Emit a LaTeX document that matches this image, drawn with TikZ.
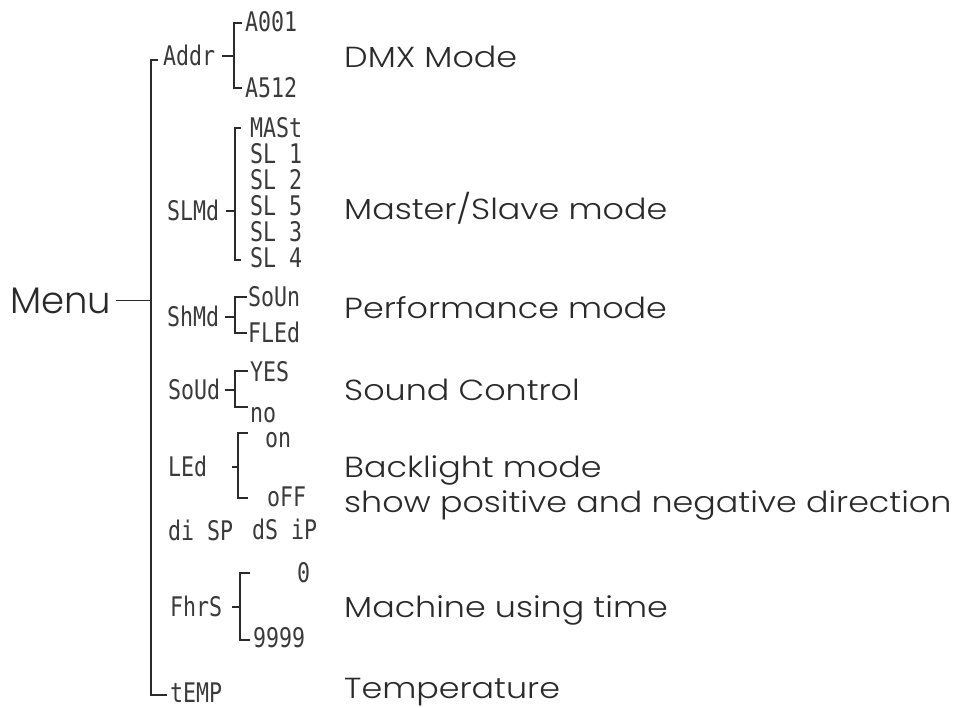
\documentclass[tikz,border=0pt]{standalone}
\usepackage{fontspec}
\IfFontExistsTF{Poppins Light}
  {\setmainfont{Poppins Light}[FakeStretch=1.15]\newfontfamily\menufam{Poppins Light}}
  {\setmainfont{Poppins}[FakeStretch=1.15]\newfontfamily\menufam{Poppins}}
\newfontfamily\segfam{DejaVu Sans Mono}
\usepackage{graphicx}
\usetikzlibrary{calc}
\definecolor{ink}{HTML}{2A2A2A}
\definecolor{segc}{HTML}{3A3A3A}
\newcommand\lblfont{\fontsize{29}{34}\selectfont}
\newcommand\menufont{\menufam\fontsize{37}{44}\selectfont}
\newcommand\segfont{\segfam\fontsize{27}{30}\selectfont}
\newcommand\sg[1]{\scalebox{0.8}[1]{#1}}
\begin{document}
\begin{tikzpicture}[x=1pt,y=-1pt,
  lbl/.style={font=\lblfont,anchor=base west,inner sep=0pt,text=ink},
  seg/.style={font=\segfont,anchor=west,inner sep=0pt,text=segc,text height=19.7pt,text depth=0pt},
  ln/.style={line width=1.8pt,draw=ink}]
\useasboundingbox[fill=white] (0,0) rectangle (960,708);

% main labels
\node[lbl,font=\menufont] (menu) at (10,313) {Menu};
\node[lbl] (dmx) at (344,68) {DMX Mode};
\node[lbl] (ms) at (344,220) {Master/Slave mode};
\node[lbl] (perf) at (344,319) {Performance mode};
\node[lbl] (snd) at (344,400) {Sound Control};
\node[lbl] (bl) at (344,477) {Backlight mode};
\node[lbl] (dir) at (344,512) {show positive and negative direction};
\node[lbl] (mach) at (344,617) {Machine using time};
\node[lbl] (temp) at (344,698) {Temperature};

% display codes
\node[seg] (addr) at (163,56) {\sg{Addr}};
\node[seg] (a001) at (245,22) {\sg{A001}};
\node[seg] (a512) at (245,88) {\sg{A512}};
\node[seg] (slmd) at (167,211) {\sg{SLMd}};
\node[seg] (mast) at (250,128) {\sg{MASt}};
\node[seg] (sl1) at (250,154) {\sg{SL 1}};
\node[seg] (sl2) at (250,180) {\sg{SL 2}};
\node[seg] (sl5) at (250,206) {\sg{SL 5}};
\node[seg] (sl3) at (250,232) {\sg{SL 3}};
\node[seg] (sl4) at (250,258) {\sg{SL 4}};
\node[seg] (shmd) at (167,317) {\sg{ShMd}};
\node[seg] (soun) at (248,297) {\sg{SoUn}};
\node[seg] (fled) at (248,333) {\sg{FLEd}};
\node[seg] (soud) at (168,390) {\sg{SoUd}};
\node[seg] (yes) at (250,372) {\sg{YES}};
\node[seg] (no) at (250,413) {\sg{no}};
\node[seg] (led) at (168,467) {\sg{LEd}};
\node[seg] (on) at (265,438) {\sg{on}};
\node[seg] (off) at (267,497) {\sg{oFF}};
\node[seg] (disp) at (168,531) {\sg{di SP}};
\node[seg] (dsip) at (252,530) {\sg{dS iP}};
\node[seg] (fhrs) at (170,607) {\sg{FhrS}};
\node[seg] (zero) at (297,573) {\sg{0}};
\node[seg] (nines) at (253,638) {\sg{9999}};
\node[seg] (tmp) at (170,693) {\sg{tEMP}};

% trunk
\coordinate (ttop) at (151,60);
\coordinate (tbot) at (151,695);
\draw[ln] ($(addr.west |- ttop)+(-5,0)$) -- (ttop) -- (tbot) -- ($(tmp.west |- tbot)+(-3,0)$);
\draw[ln] ($(menu.east)+(5,0)$) -- (ttop |- menu.east);

% Addr
\coordinate (bAt) at (234,23); \coordinate (bAb) at (234,88);
\draw[ln] ($(bAt)+(8,0)$) -- (bAt) -- (bAb) -- ($(bAb)+(8,0)$);
\draw[ln] ($(addr.east)+(7,0)$) -- (bAt |- addr.east);
% SLMd
\coordinate (bBt) at (235,128); \coordinate (bBb) at (235,260);
\draw[ln] ($(bBt)+(6,0)$) -- (bBt) -- (bBb) -- ($(bBb)+(6,0)$);
\draw[ln] ($(slmd.east)+(7,0)$) -- (bBt |- slmd.east);
% ShMd
\coordinate (bCt) at (235,297); \coordinate (bCb) at (235,333);
\draw[ln] ($(bCt)+(12,0)$) -- (bCt) -- (bCb) -- ($(bCb)+(12,0)$);
\draw[ln] ($(shmd.east)+(6,0)$) -- (bCt |- shmd.east);
% SoUd
\coordinate (bDt) at (235,371); \coordinate (bDb) at (235,407);
\draw[ln] ($(bDt)+(13,0)$) -- (bDt) -- (bDb) -- ($(bDb)+(13,0)$);
\draw[ln] ($(soud.east)+(5,0)$) -- (bDt |- soud.east);
% LEd
\coordinate (bEt) at (238,433); \coordinate (bEb) at (238,498);
\draw[ln] ($(bEt)+(10,0)$) -- (bEt) -- (bEb) -- ($(bEb)+(10,0)$);
\draw[ln] ($(led.east)+(25,0)$) -- (bEt |- led.east);
% FhrS
\coordinate (bFt) at (240,573); \coordinate (bFb) at (240,640);
\draw[ln] ($(bFt)+(10,0)$) -- (bFt) -- (bFb) -- ($(bFb)+(10,0)$);
\draw[ln] ($(fhrs.east)+(10,0)$) -- (bFt |- fhrs.east);
\end{tikzpicture}
\end{document}
